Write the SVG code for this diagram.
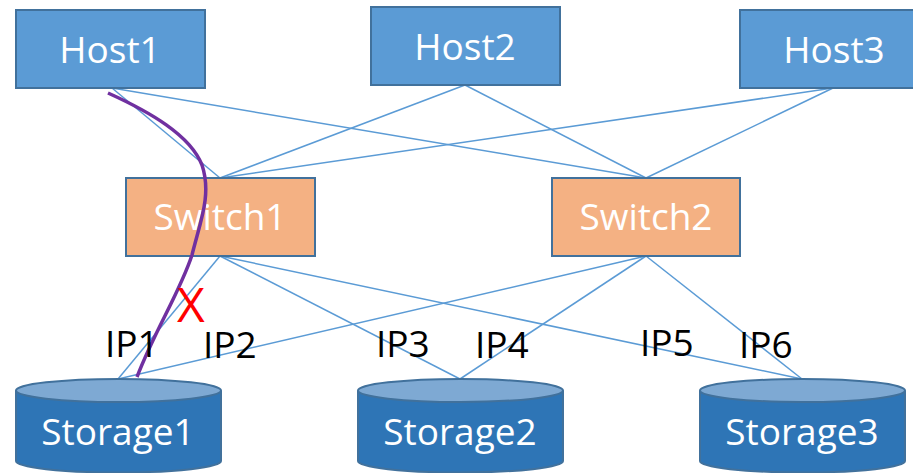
<svg xmlns="http://www.w3.org/2000/svg" width="913" height="473" viewBox="0 0 913 473">
  <style>
    .host { fill: #5B9BD5; stroke: #41719C; stroke-width: 2; }
    .switch { fill: #F4B183; stroke: #41719C; stroke-width: 2; }
    .disk-body { fill: #2E75B6; stroke: #41719C; stroke-width: 2; }
    .disk-top { fill: #7EA9D3; stroke: #41719C; stroke-width: 2; }
    .label { font-family: "Open Sans", "Noto Sans", sans-serif; font-size: 37px; fill: #FFFFFF; text-anchor: middle; }
    .ip { font-family: "Open Sans", "Noto Sans", sans-serif; font-size: 37px; fill: #000000; }
    .fail { font-family: "Open Sans", "Noto Sans", sans-serif; font-size: 48px; fill: #FF0000; }
    .link { stroke: #5B9BD5; stroke-width: 1.5; fill: none; }
    .path { stroke: #7030A0; stroke-width: 3.5; fill: none; stroke-linecap: butt; }
  </style>

  <!-- links between hosts, switches and storage -->
  <g id="connectors">
    <line class="link" x1="112" y1="88" x2="220" y2="178"/>
    <line class="link" x1="112" y1="88" x2="646" y2="178"/>
    <line class="link" x1="465" y1="85" x2="220" y2="178"/>
    <line class="link" x1="465" y1="85" x2="646" y2="178"/>
    <line class="link" x1="833" y1="88" x2="220" y2="178"/>
    <line class="link" x1="833" y1="88" x2="646" y2="178"/>
    <line class="link" x1="220" y1="256" x2="118" y2="379"/>
    <line class="link" x1="220" y1="256" x2="460" y2="379"/>
    <line class="link" x1="220" y1="256" x2="802" y2="379"/>
    <line class="link" x1="646" y1="256" x2="118" y2="379"/>
    <line class="link" x1="646" y1="256" x2="460" y2="379"/>
    <line class="link" x1="646" y1="256" x2="802" y2="379"/>
  </g>

  <g id="host1">
    <rect class="host" x="16" y="10" width="189" height="78"/>
    <text class="label" x="110" y="63">Host1</text>
  </g>
  <g id="host2">
    <rect class="host" x="371" y="7" width="189" height="78"/>
    <text class="label" x="465" y="60">Host2</text>
  </g>
  <g id="host3">
    <rect class="host" x="740" y="10" width="189" height="78"/>
    <text class="label" x="834" y="63">Host3</text>
  </g>

  <g id="switch1">
    <rect class="switch" x="126" y="178" width="189" height="78"/>
    <text class="label" x="220" y="230">Switch1</text>
  </g>
  <g id="switch2">
    <rect class="switch" x="552" y="178" width="188" height="78"/>
    <text class="label" x="646" y="230">Switch2</text>
  </g>

  <g id="storage1">
    <path class="disk-body" d="M16 390.5 V461 A102.5 11.5 0 0 0 221 461 V390.5"/>
    <ellipse class="disk-top" cx="118.5" cy="390.5" rx="102.5" ry="11.5"/>
    <text class="label" x="118" y="445">Storage1</text>
  </g>
  <g id="storage2">
    <path class="disk-body" d="M358 390.5 V461 A102.5 11.5 0 0 0 563 461 V390.5"/>
    <ellipse class="disk-top" cx="460.5" cy="390.5" rx="102.5" ry="11.5"/>
    <text class="label" x="460" y="445">Storage2</text>
  </g>
  <g id="storage3">
    <path class="disk-body" d="M700 390.5 V461 A102.5 11.5 0 0 0 905 461 V390.5"/>
    <ellipse class="disk-top" cx="802.5" cy="390.5" rx="102.5" ry="11.5"/>
    <text class="label" x="802" y="445">Storage3</text>
  </g>

  <!-- active I/O path from Host1 to Storage1 -->
  <g id="io-path">
    <path class="path" d="M108 93 C150 112 190 135 202 165 C212 195 200 222 192 255 C180 292 155 330 137 377"/>
  </g>

  <g id="ip-labels">
    <text class="ip" x="105" y="357">IP1</text>
    <text class="ip" x="203" y="358">IP2</text>
    <text class="ip" x="376" y="357">IP3</text>
    <text class="ip" x="475" y="358">IP4</text>
    <text class="ip" x="640" y="356">IP5</text>
    <text class="ip" x="739" y="358">IP6</text>
    <text class="fail" x="177" y="322">X</text>
  </g>
</svg>
